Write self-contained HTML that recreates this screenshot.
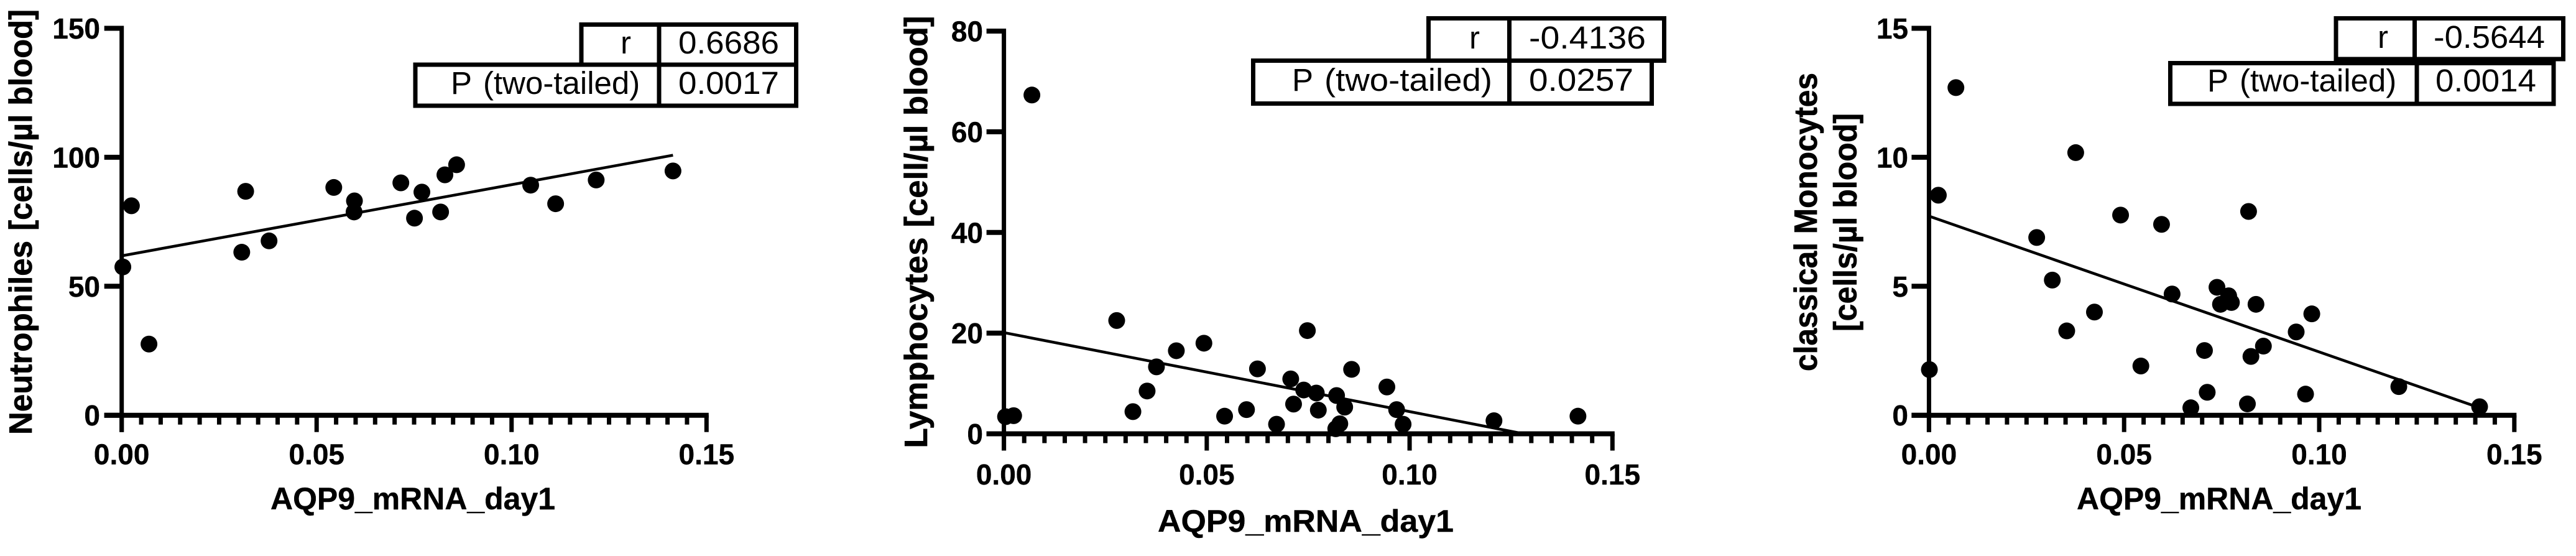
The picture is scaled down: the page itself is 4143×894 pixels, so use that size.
<!DOCTYPE html>
<html lang="en">
<head>
<meta charset="utf-8">
<title>AQP9 mRNA correlations</title>
<style>
html,body{margin:0;padding:0;background:#fff;}
svg{display:block;}
text{font-family:"Liberation Sans",Arial,sans-serif;fill:#000;}
.title{font-weight:700;font-size:52px;stroke:#000;stroke-width:0.7px;}
.xtitle{font-weight:700;font-size:50px;stroke:#000;stroke-width:0.4px;}
.stat{font-size:51px;}
.cell{fill:#fff;stroke:#000;stroke-width:7;}
</style>
</head>
<body>
<svg id="figure" width="4143" height="894" viewBox="0 0 4143 894" xmlns="http://www.w3.org/2000/svg">
  <rect width="4143" height="894" fill="#fff"/>

  <g id="chart-a"></g>
  <g id="chart-b"></g>
  <g id="chart-c"></g>

  <!-- Chart A labels and table -->
  <text class="title" transform="translate(51,699) rotate(-90)"><tspan x="0" textLength="312" lengthAdjust="spacingAndGlyphs">Neutrophiles</tspan> <tspan x="328.3" textLength="355.7" lengthAdjust="spacingAndGlyphs">[cells/µl blood]</tspan></text>
  <text class="xtitle" x="664" y="819" text-anchor="middle" textLength="458" lengthAdjust="spacingAndGlyphs">AQP9_mRNA_day1</text>
  <g>
    <rect class="cell" x="935" y="39.5" width="125" height="64.5"/>
    <rect class="cell" x="1060" y="39.5" width="220.5" height="64.5"/>
    <rect class="cell" x="668" y="104" width="392" height="66"/>
    <rect class="cell" x="1060" y="104" width="220.5" height="66"/>
    <text class="stat" x="1015" y="86" text-anchor="end">r</text>
    <text class="stat" x="1091" y="86" textLength="162" lengthAdjust="spacingAndGlyphs">0.6686</text>
    <text class="stat" y="151"><tspan x="725">P</tspan> <tspan x="777">(two-tailed)</tspan></text>
    <text class="stat" x="1091" y="151" textLength="162" lengthAdjust="spacingAndGlyphs">0.0017</text>
  </g>

  <!-- Chart B labels and table -->
  <text class="title" transform="translate(1491,720.5) rotate(-90)"><tspan x="0" textLength="339" lengthAdjust="spacingAndGlyphs">Lymphocytes</tspan> <tspan x="355" textLength="340" lengthAdjust="spacingAndGlyphs">[cell/µl blood]</tspan></text>
  <text class="xtitle" x="2100" y="855" text-anchor="middle" textLength="476" lengthAdjust="spacingAndGlyphs">AQP9_mRNA_day1</text>
  <g>
    <rect class="cell" x="2297.5" y="29.5" width="130" height="68"/>
    <rect class="cell" x="2427.5" y="29.5" width="249" height="68"/>
    <rect class="cell" x="2015.5" y="97.5" width="412" height="69"/>
    <rect class="cell" x="2427.5" y="97.5" width="229" height="69"/>
    <text class="stat" x="2380" y="78" text-anchor="end">r</text>
    <text class="stat" x="2459" y="78" textLength="188" lengthAdjust="spacingAndGlyphs">-0.4136</text>
    <text class="stat" y="146"><tspan x="2078">P</tspan> <tspan x="2130" textLength="270" lengthAdjust="spacingAndGlyphs">(two-tailed)</tspan></text>
    <text class="stat" x="2459" y="146" textLength="168" lengthAdjust="spacingAndGlyphs">0.0257</text>
  </g>

  <!-- Chart C labels and table -->
  <text class="title" transform="translate(2922,357) rotate(-90)" text-anchor="middle" textLength="480" lengthAdjust="spacingAndGlyphs">classical Monocytes</text>
  <text class="title" transform="translate(2985.5,357.5) rotate(-90)" text-anchor="middle" textLength="351" lengthAdjust="spacingAndGlyphs">[cells/µl blood]</text>
  <text class="xtitle" x="3569" y="819" text-anchor="middle" textLength="458" lengthAdjust="spacingAndGlyphs">AQP9_mRNA_day1</text>
  <g>
    <rect class="cell" x="3757" y="29.5" width="126.5" height="65.5"/>
    <rect class="cell" x="3883.5" y="29.5" width="239" height="65.5"/>
    <rect class="cell" x="3490.5" y="101.5" width="396.5" height="65.5"/>
    <rect class="cell" x="3887" y="101.5" width="220" height="65.5"/>
    <text class="stat" x="3841" y="77" text-anchor="end">r</text>
    <text class="stat" x="3914" y="77" textLength="179" lengthAdjust="spacingAndGlyphs">-0.5644</text>
    <text class="stat" y="147"><tspan x="3550">P</tspan> <tspan x="3602">(two-tailed)</tspan></text>
    <text class="stat" x="3917" y="147" textLength="162" lengthAdjust="spacingAndGlyphs">0.0014</text>
  </g>
</svg>

<script>
// ---------- Shared axis values ----------
var xMajorTicks = [0, 0.05, 0.10, 0.15];
var xTickLabels = ["0.00", "0.05", "0.10", "0.15"];
var xMinorStep = 0.005;

// ---------- Chart A: Neutrophiles ----------
var neutroX = [0.0003,0.0025,0.0070,0.0308,0.0318,0.0378,0.0544,0.0597,0.0596,0.0716,0.0751,0.0770,0.0818,0.0829,0.0859,0.1049,0.1113,0.1217,0.1414];
var neutroY = [57.5,81.2,27.6,63.2,86.8,67.6,88.3,83.1,78.8,90.1,76.4,86.5,78.8,93.2,97.1,89.2,82.0,91.2,94.7];
var neutroFitX = [0, 0.1414];
var neutroFitY = [61.8, 100.8];
var neutroYTicks = [0, 50, 100, 150];
var neutroYLabels = ["0", "50", "100", "150"];

// ---------- Chart B: Lymphocytes ----------
var lymphX = [0.0069,0.0004,0.0024,0.0278,0.0318,0.0353,0.0376,0.0425,0.0493,0.0544,0.0598,0.0625,0.0672,0.0707,0.0714,0.0739,0.0748,0.0770,0.0775,0.0820,0.0818,0.0828,0.0840,0.0857,0.0944,0.0968,0.0984,0.1208,0.1415];
var lymphY = [67.3,3.4,3.6,22.5,4.4,8.5,13.3,16.5,18.0,3.5,4.8,12.9,1.9,10.9,5.9,8.7,20.5,8.1,4.7,7.6,1.0,2.0,5.3,12.8,9.3,4.8,1.9,2.6,3.5];
var lymphFitX = [0, 0.1281];
var lymphFitY = [20.1, 0];
var lymphYTicks = [0, 20, 40, 60, 80];
var lymphYLabels = ["0", "20", "40", "60", "80"];

// ---------- Chart C: classical Monocytes ----------
var monoX = [0.0069,0.0024,0.0001,0.0376,0.0276,0.0316,0.0353,0.0424,0.0491,0.0543,0.0596,0.0623,0.0671,0.0706,0.0713,0.0738,0.0747,0.0768,0.0775,0.0819,0.0816,0.0825,0.0838,0.0857,0.0941,0.0965,0.0981,0.1204,0.1411];
var monoY = [12.70,8.53,1.77,10.18,6.89,5.24,3.27,4.00,7.76,1.91,7.40,4.70,0.29,2.51,0.89,4.96,4.30,4.63,4.37,7.90,0.44,2.28,4.30,2.68,3.23,0.82,3.93,1.11,0.33];
var monoFitX = [0, 0.1411];
var monoFitY = [7.72, 0.29];
var monoYTicks = [0, 5, 10, 15];
var monoYLabels = ["0", "5", "10", "15"];

var SVGNS = "http://www.w3.org/2000/svg";

function makeXScale(left, right, max) {
  return function (v) { return left + (v / max) * (right - left); };
}
function makeYScale(bottom, top, max) {
  return function (v) { return bottom - (v / max) * (bottom - top); };
}
function addLine(parent, x1, y1, x2, y2, width) {
  var el = document.createElementNS(SVGNS, "line");
  el.setAttribute("x1", x1);
  el.setAttribute("y1", y1);
  el.setAttribute("x2", x2);
  el.setAttribute("y2", y2);
  el.setAttribute("stroke", "#000");
  el.setAttribute("stroke-width", width);
  parent.appendChild(el);
  return el;
}
function addLabel(parent, x, y, anchor, str) {
  var el = document.createElementNS(SVGNS, "text");
  el.setAttribute("x", x);
  el.setAttribute("y", y);
  el.setAttribute("text-anchor", anchor);
  el.setAttribute("font-weight", "700");
  el.setAttribute("font-size", "46");
  el.setAttribute("stroke", "#000");
  el.setAttribute("stroke-width", "0.4");
  el.textContent = str;
  parent.appendChild(el);
  return el;
}

function drawChart(groupId, box, xs, ys, fitX, fitY, yTicks, yLabels) {
  var g = document.getElementById(groupId);
  var yMax = yTicks[yTicks.length - 1];
  var xMax = xMajorTicks[xMajorTicks.length - 1];
  var sx = makeXScale(box.left, box.right, xMax);
  var sy = makeYScale(box.bottom, box.top, yMax);

  // axes
  var xAxis = addLine(g, box.left - 28, box.bottom, box.right + 3.5, box.bottom, 8);
  
  
  var yAxis = addLine(g, box.left, box.top - 4, box.left, box.bottom + 27, 7);
  
  

  // minor x ticks
  var nMinor = Math.round(xMax / xMinorStep);
  for (var i = 1; i < nMinor; i++) {
    if (i % 10 === 0) continue;
    var mx = sx(i * xMinorStep);
    var minor = addLine(g, mx, box.bottom, mx, box.bottom + 15, 7);
    
    
  }
  // major x ticks and labels
  xMajorTicks.forEach(function (t, idx) {
    var px = sx(t);
    var major = addLine(g, px, box.bottom, px, box.bottom + 27, 7);
    
    
    var lbl = addLabel(g, px, box.xLabelY, "middle", xTickLabels[idx]);
    
    
  });
  // y ticks and labels
  yTicks.forEach(function (t, idx) {
    var py = sy(t);
    var tick = addLine(g, box.left - 28, py, box.left, py, 8);
    
    
    var lbl = addLabel(g, box.yLabelX, py + 16.5, "end", yLabels[idx]);
    
    
  });
  // regression line
  var fit = addLine(g, sx(fitX[0]), sy(fitY[0]), sx(fitX[1]), sy(fitY[1]), 4.5);
  
  
  // points
  xs.forEach(function (v, idx) {
    var c = document.createElementNS(SVGNS, "circle");
    c.setAttribute("cx", sx(v));
    c.setAttribute("cy", sy(ys[idx]));
    c.setAttribute("r", 13.5);
    c.setAttribute("fill", "#000");
    
    
    g.appendChild(c);
  });
}

drawChart("chart-a", {left:195.7,right:1136.3,top:45.5,bottom:667.7,xLabelY:746.7,yLabelX:161},
  neutroX, neutroY, neutroFitX, neutroFitY, neutroYTicks, neutroYLabels);
drawChart("chart-b", {left:1614.6,right:2593.3,top:50,bottom:697.5,xLabelY:779,yLabelX:1581},
  lymphX, lymphY, lymphFitX, lymphFitY, lymphYTicks, lymphYLabels);
drawChart("chart-c", {left:3102.4,right:4043.8,top:45.5,bottom:667.7,xLabelY:746.7,yLabelX:3069},
  monoX, monoY, monoFitX, monoFitY, monoYTicks, monoYLabels);
</script>
</body>
</html>
